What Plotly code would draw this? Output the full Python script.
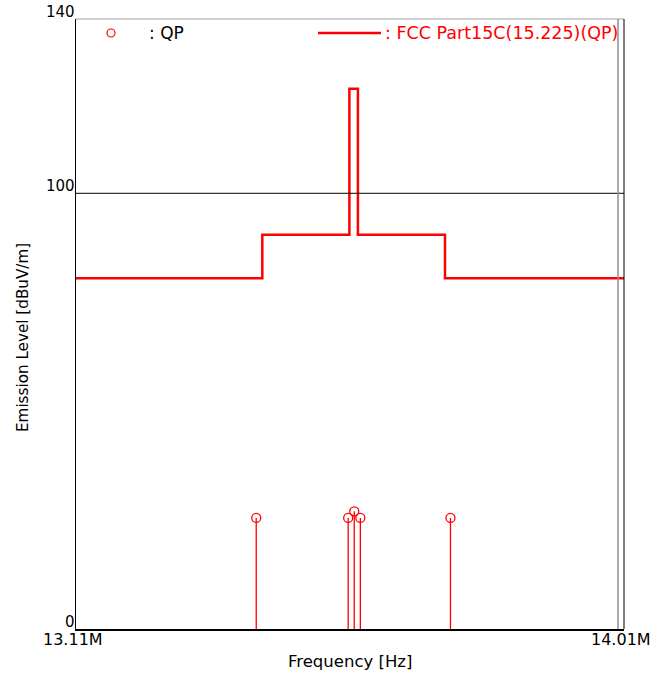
import plotly.graph_objects as go

# ---- data ----
limit_freq_mhz = [13.11, 13.416, 13.559, 13.573, 13.716, 14.01]
limit_level = [80.5, 90.5, 124.0, 90.5, 80.5, 80.5]

qp_freq_mhz = [13.406, 13.557, 13.567, 13.577, 13.725]
qp_level = [25.5, 25.5, 27.0, 25.5, 25.5]

y_ticks = [0, 100, 140]
x_tick_vals = [13.11, 14.01]
x_tick_text = ["13.11M", "14.01M"]

FONT = "DejaVu Sans"
RED = "#ff0000"
L, T, PW, PH = 76, 19, 548, 610   # plot area in page pixels


def px(x):
    return (x - L) / PW


def py(y):
    return (T + PH - y) / PH


fig = go.Figure()

# limit line
fig.add_trace(go.Scatter(x=limit_freq_mhz, y=limit_level, mode="lines",
                         line=dict(color=RED, width=2.5, shape="hv"),
                         hoverinfo="skip", showlegend=False))

# stems
sx, sy = [], []
for f, v in zip(qp_freq_mhz, qp_level):
    sx += [f, f, None]
    sy += [0, v, None]
fig.add_trace(go.Scatter(x=sx, y=sy, mode="lines", line=dict(color=RED, width=1.3),
                         hoverinfo="skip", showlegend=False))
fig.add_trace(go.Scatter(x=qp_freq_mhz, y=qp_level, mode="markers",
                         marker=dict(symbol="circle-open", size=9, color=RED, line=dict(width=1.3)),
                         showlegend=False))

# 100 dB grid line
fig.add_shape(type="line", xref="paper", yref="y", x0=0, x1=1, y0=100, y1=100,
              line=dict(color="black", width=1))
# frame lines
fig.add_shape(type="line", xref="paper", yref="paper", x0=0, x1=1, y0=1, y1=1,
              line=dict(color="#a0a0a0", width=1))
fig.add_shape(type="line", xref="paper", yref="paper", x0=px(618), x1=px(618), y0=0, y1=1,
              line=dict(color="#909090", width=1.5))
fig.add_shape(type="line", xref="paper", yref="paper", x0=1, x1=1, y0=0, y1=1,
              line=dict(color="black", width=1))

# tick labels as annotations
for t in y_ticks:
    fig.add_annotation(x=0, xref="paper", y=t, yref="y", text=str(t), showarrow=False,
                       xanchor="right", yanchor="bottom", yshift=-4, xshift=1,
                       font=dict(family=FONT, size=15, color="black"))
for v, t in zip(x_tick_vals, x_tick_text):
    fig.add_annotation(x=v, xref="x", y=0, yref="paper", text=t, showarrow=False,
                       xanchor="center", yanchor="top", yshift=1, xshift=-3,
                       font=dict(family=FONT, size=16, color="black"))

# axis titles
fig.add_annotation(x=px(350), xref="paper", y=0, yref="paper", text="Frequency [Hz]",
                   showarrow=False, xanchor="center", yanchor="top", yshift=-21,
                   font=dict(family=FONT, size=16.5, color="black"))
fig.add_annotation(x=0, xref="paper", y=py(338), yref="paper",
                   text="Emission Level [dBuV/m]", textangle=-90,
                   showarrow=False, xanchor="center", yanchor="middle", xshift=-53,
                   font=dict(family=FONT, size=15.2, color="black"))

# legend
fig.add_shape(type="circle", xref="paper", yref="paper", xsizemode="pixel", ysizemode="pixel",
              xanchor=px(111), yanchor=py(33), x0=-4, x1=4, y0=-4, y1=4,
              line=dict(color=RED, width=1.2))
fig.add_annotation(x=px(147), xref="paper", y=py(33), yref="paper", text=": QP",
                   showarrow=False, xanchor="left", yanchor="middle",
                   font=dict(family=FONT, size=17, color="black"))
fig.add_shape(type="line", xref="paper", yref="paper", x0=px(318), x1=px(381),
              y0=py(33), y1=py(33), line=dict(color=RED, width=2.5))
fig.add_annotation(x=px(383), xref="paper", y=py(33), yref="paper",
                   text=": FCC Part15C(15.225)(QP)",
                   showarrow=False, xanchor="left", yanchor="middle",
                   font=dict(family=FONT, size=17.5, color=RED))

fig.update_xaxes(range=[13.11, 14.01], showgrid=False, zeroline=False, showticklabels=False,
                 ticks="", showline=True, linecolor="black", linewidth=2, mirror=False,
                 automargin=False)
fig.update_yaxes(range=[0, 140], showgrid=False, zeroline=False, showticklabels=False,
                 ticks="", showline=True, linecolor="black", linewidth=1, automargin=False)

fig.update_layout(width=669, height=674,
                  margin=dict(l=L, r=669 - L - PW, t=T, b=674 - T - PH, autoexpand=False),
                  plot_bgcolor="white", paper_bgcolor="white", showlegend=False)

fig.write_html("out.html", config={"displayModeBar": False},
               post_script="document.body.style.margin='0px';document.body.style.padding='0px';")
